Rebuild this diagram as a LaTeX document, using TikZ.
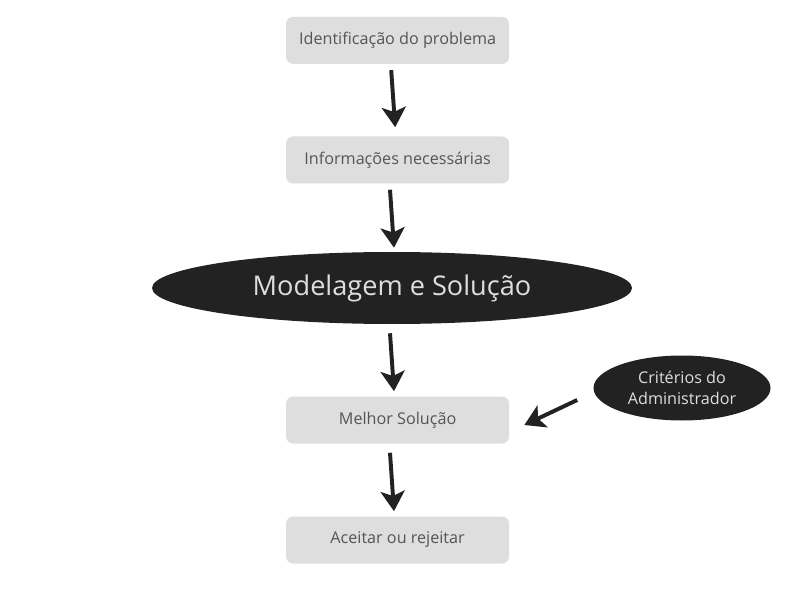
\documentclass[tikz,border=0pt]{standalone}
\usepackage{fontspec}
\setmainfont{Open Sans}
\usetikzlibrary{arrows.meta,shapes.geometric}
\definecolor{caixacinza}{HTML}{DEDEDE}
\definecolor{textocinza}{HTML}{555555}
\definecolor{ovalescuro}{HTML}{222222}
\begin{document}
\begin{tikzpicture}[
        caixa/.style={fill=caixacinza,rounded corners=5pt,minimum width=5.575cm,minimum height=1.175cm,text=textocinza,font=\fontsize{11.5}{14}\selectfont},
        oval/.style={ellipse,fill=ovalescuro,text=caixacinza,inner sep=0pt},
        seta/.style={line width=2.8pt,ovalescuro,-{Stealth[length=0.5cm,width=0.6cm,inset=0.12cm]}}]
        \useasboundingbox (0,0) rectangle (20,15);
        \node[caixa](ident) at (9.94,13.99){Identificação do problema};
        \node[caixa](info) at (9.94,11){Informações necessárias};
        \node[oval,minimum width=12cm,minimum height=1.8cm,font=\fontsize{19.3}{23}\selectfont](model) at (9.8,7.8){Modelagem e Solução};
        \node[caixa](melhor) at (9.94,4.5){Melhor Solução};
        \node[caixa](aceitar) at (9.94,1.5){Aceitar ou rejeitar};
        \node[oval,minimum width=4.425cm,minimum height=1.625cm,align=center,font=\fontsize{11.5}{15}\selectfont](crit) at (17.05,5.3){Critérios do\\Administrador};
        \draw[seta]([xshift=-0.16cm,yshift=-0.15cm]ident.south)--([xshift=-0.06cm,yshift=0.225cm]info.north);
        \draw[seta]([xshift=-0.19cm,yshift=-0.15cm]info.south)--([xshift=0.05cm,yshift=0.1cm]model.north);
        \draw[seta]([xshift=-0.05cm,yshift=-0.225cm]model.south)--([xshift=-0.09cm,yshift=0.125cm]melhor.north);
        \draw[seta]([xshift=-0.19cm,yshift=-0.225cm]melhor.south)--([xshift=-0.09cm,yshift=0.125cm]aceitar.north);
        \draw[seta]([xshift=-0.4cm,yshift=-0.3cm]crit.west)--([xshift=0.375cm,yshift=-0.125cm]melhor.east);
\end{tikzpicture}
\end{document}
